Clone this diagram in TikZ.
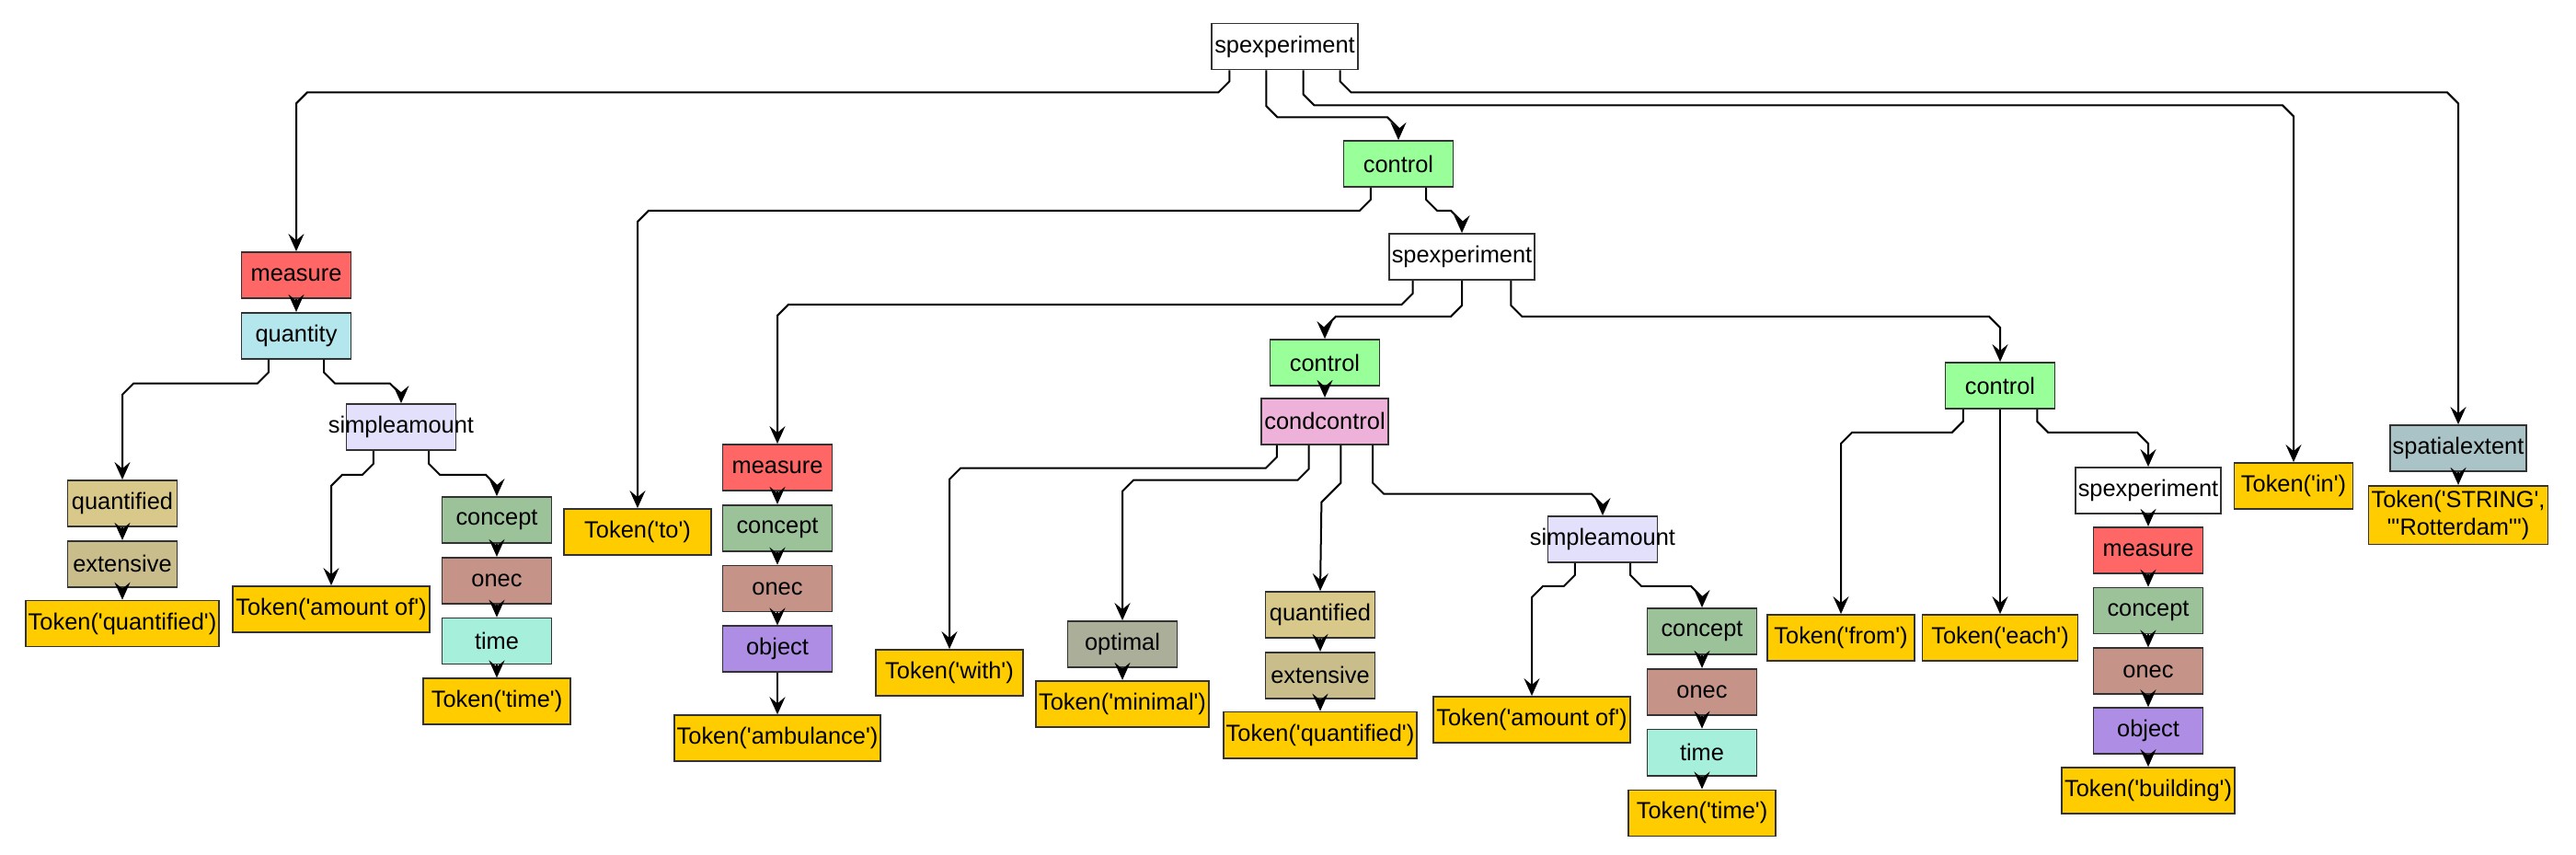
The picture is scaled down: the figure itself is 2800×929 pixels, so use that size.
\documentclass[tikz,border=0pt]{standalone}
\usepackage{fontspec}
\setmainfont{Liberation Sans}[Ligatures=TeXOff]
\usetikzlibrary{calc,positioning,arrows.meta}

\definecolor{measurecol}{HTML}{FF6666}
\definecolor{quantitycol}{HTML}{B4E6EE}
\definecolor{amountcol}{HTML}{E3E0FB}
\definecolor{quantifiedcol}{HTML}{D8C88A}
\definecolor{extensivecol}{HTML}{C9BE8B}
\definecolor{conceptcol}{HTML}{9CC29A}
\definecolor{oneccol}{HTML}{C69389}
\definecolor{timecol}{HTML}{A6EFDB}
\definecolor{tokencol}{HTML}{FFCC00}
\definecolor{controlcol}{HTML}{99FF99}
\definecolor{condcol}{HTML}{EEB1DA}
\definecolor{optimalcol}{HTML}{ABAF9A}
\definecolor{objectcol}{HTML}{AE8EE5}
\definecolor{spatialcol}{HTML}{AAC3C6}

\tikzset{
  box/.style={draw=black!80, line width=0.9pt, minimum width=59.5pt, minimum height=25pt,
    inner xsep=1.5pt, inner ysep=2.5pt, align=center, font=\fontsize{12.7}{15}\selectfont},
  token/.style={box, fill=tokencol, minimum width=80pt},
  spexpbox/.style={box, fill=white},
  measurebox/.style={box, fill=measurecol},
  quantitybox/.style={box, fill=quantitycol},
  amountbox/.style={box, fill=amountcol},
  quantifiedbox/.style={box, fill=quantifiedcol},
  extensivebox/.style={box, fill=extensivecol},
  conceptbox/.style={box, fill=conceptcol},
  onecbox/.style={box, fill=oneccol},
  timebox/.style={box, fill=timecol},
  controlbox/.style={box, fill=controlcol},
  condbox/.style={box, fill=condcol},
  optimalbox/.style={box, fill=optimalcol},
  objectbox/.style={box, fill=objectcol},
  spatialbox/.style={box, fill=spatialcol},
  link/.style={line width=1pt, -{Stealth[length=9.5pt,width=8.5pt,inset=3.5pt]}}
}

% parent, place on its bottom side, drop to the run, child, side (-1 left, 1 right)
\newcommand{\treeedge}[5]{%
  \path ($(#1.south west)!#2!(#1.south east)$) coordinate (te-s)
    ++({(#5)*12},#3) coordinate (te-h)
    ($(#4.north)+({-(#5)*12},0)$) coordinate (te-c);
  \draw[link] (te-s) -- ++(0,#3-12) -- (te-h) -- (te-c |- te-h) -- ++({(#5)*12},12) -- (#4.north);
}

\begin{document}
\begin{tikzpicture}[x=0.5pt,y=-0.5pt]
    \useasboundingbox (0,0) rectangle (2800,929);

    % Top of the tree
    \node[spexpbox] (spexpRoot) at (1396.5,50.5) {spexperiment};
    \node[controlbox] (controlA) at (1520,178) {control};
    \node[spexpbox] (spexpA) at (1589,279) {spexperiment};

    % First measure
    \node[measurebox] (measureA) at (322,299) {measure};
    \node[quantitybox, below=7pt of measureA] (quantityA) {quantity};
    \node[amountbox] (amountA) at (436,464) {\makebox[0pt]{simpleamount}};
    \node[quantifiedbox] (quantifiedA) at (133,547) {quantified};
    \node[extensivebox, below=7pt of quantifiedA] (extensiveA) {extensive};
    \node[token, below=6.5pt of extensiveA] (tokQuantA) {Token('quantified')};
    \node[token] (tokAmountA) at (360,662) {Token('amount of')};
    \node[conceptbox] (conceptA) at (540,565) {concept};
    \node[onecbox, below=7pt of conceptA] (onecA) {onec};
    \node[timebox, below=7pt of onecA] (timeA) {time};
    \node[token, below=7pt of timeA] (tokTimeA) {Token('time')};

    \node[token] (tokTo) at (693,578) {Token('to')};

    % Second measure
    \node[measurebox] (measureB) at (845,508) {measure};
    \node[conceptbox, below=7pt of measureB] (conceptB) {concept};
    \node[onecbox, below=7pt of conceptB] (onecB) {onec};
    \node[objectbox, below=7pt of onecB] (objectB) {object};
    \node[token, below=22.5pt of objectB] (tokAmbulance) {Token('ambulance')};

    % Control with condition
    \node[controlbox] (controlB) at (1440,394) {control};
    \node[condbox, below=6pt of controlB] (condB) {condcontrol};
    \node[token] (tokWith) at (1032,731) {Token('with')};
    \node[optimalbox] (optimalB) at (1220,700) {optimal};
    \node[token, below=6.5pt of optimalB] (tokMinimal) {Token('minimal')};
    \node[quantifiedbox] (quantifiedB) at (1435,668) {quantified};
    \node[extensivebox, below=7pt of quantifiedB] (extensiveB) {extensive};
    \node[token, below=6.5pt of extensiveB] (tokQuantB) {Token('quantified')};
    \node[amountbox] (amountB) at (1742,586) {\makebox[0pt]{simpleamount}};
    \node[token] (tokAmountB) at (1665,782) {Token('amount of')};
    \node[conceptbox] (conceptC) at (1850,686) {concept};
    \node[onecbox, below=7pt of conceptC] (onecC) {onec};
    \node[timebox, below=7pt of onecC] (timeC) {time};
    \node[token, below=7pt of timeC] (tokTimeC) {Token('time')};

    % Third control
    \node[controlbox] (controlC) at (2174,419) {control};
    \node[token] (tokFrom) at (2001,693) {Token('from')};
    \node[token, minimum width=84.5pt] (tokEach) at (2174,693) {Token('each')};
    \node[spexpbox] (spexpB) at (2335,533) {spexperiment};
    \node[measurebox, below=6.5pt of spexpB] (measureC) {measure};
    \node[conceptbox, below=7pt of measureC] (conceptD) {concept};
    \node[onecbox, below=7pt of conceptD] (onecD) {onec};
    \node[objectbox, below=6.5pt of onecD] (objectD) {object};
    \node[token, below=6.5pt of objectD] (tokBuilding) {Token('building')};

    % Place
    \node[token, minimum width=64.5pt] (tokIn) at (2493,528) {Token('in')};
    \node[spatialbox] (spatial) at (2672,487) {spatialextent};
    \node[token, below=7pt of spatial] (tokString) {Token('STRING',\\'"Rotterdam"')};

    % Branches
    \treeedge{spexpRoot}{0.125}{24}{measureA}{-1}
    \treeedge{spexpRoot}{0.375}{51}{controlA}{1}
    \treeedge{spexpRoot}{0.625}{38}{tokIn}{1}
    \treeedge{spexpRoot}{0.875}{24}{spatial}{1}
    \treeedge{controlA}{0.25}{25}{tokTo}{-1}
    \treeedge{controlA}{0.75}{25}{spexpA}{1}
    \treeedge{spexpA}{0.1667}{26}{measureB}{-1}
    \treeedge{spexpA}{0.5}{39}{controlB}{-1}
    \treeedge{spexpA}{0.8333}{39}{controlC}{1}
    \treeedge{quantityA}{0.25}{26}{quantifiedA}{-1}
    \treeedge{quantityA}{0.75}{26}{amountA}{1}
    \treeedge{amountA}{0.25}{26}{tokAmountA}{-1}
    \treeedge{amountA}{0.75}{26}{conceptA}{1}
    \treeedge{condB}{0.125}{25}{tokWith}{-1}
    \treeedge{condB}{0.375}{38}{optimalB}{-1}
    \draw[link] ($(condB.south west)!0.625!(condB.south east)$) -- ++(0,41) -- ++(-21,21) -- (quantifiedB.north);
    \treeedge{condB}{0.875}{53}{amountB}{1}
    \treeedge{amountB}{0.25}{25}{tokAmountB}{-1}
    \treeedge{amountB}{0.75}{25}{conceptC}{1}
    \treeedge{controlC}{0.1667}{25}{tokFrom}{-1}
    \draw[link] (controlC.south) -- (tokEach.north);
    \treeedge{controlC}{0.8333}{25}{spexpB}{1}

    % Chains
    \draw[link] (measureA.south) -- (quantityA.north);
    \draw[link] (quantifiedA.south) -- (extensiveA.north);
    \draw[link] (extensiveA.south) -- (tokQuantA.north);
    \draw[link] (conceptA.south) -- (onecA.north);
    \draw[link] (onecA.south) -- (timeA.north);
    \draw[link] (timeA.south) -- (tokTimeA.north);
    \draw[link] (measureB.south) -- (conceptB.north);
    \draw[link] (conceptB.south) -- (onecB.north);
    \draw[link] (onecB.south) -- (objectB.north);
    \draw[link] (objectB.south) -- (tokAmbulance.north);
    \draw[link] (controlB.south) -- (condB.north);
    \draw[link] (optimalB.south) -- (tokMinimal.north);
    \draw[link] (quantifiedB.south) -- (extensiveB.north);
    \draw[link] (extensiveB.south) -- (tokQuantB.north);
    \draw[link] (conceptC.south) -- (onecC.north);
    \draw[link] (onecC.south) -- (timeC.north);
    \draw[link] (timeC.south) -- (tokTimeC.north);
    \draw[link] (spexpB.south) -- (measureC.north);
    \draw[link] (measureC.south) -- (conceptD.north);
    \draw[link] (conceptD.south) -- (onecD.north);
    \draw[link] (onecD.south) -- (objectD.north);
    \draw[link] (objectD.south) -- (tokBuilding.north);
    \draw[link] (spatial.south) -- (tokString.north);
\end{tikzpicture}
\end{document}
